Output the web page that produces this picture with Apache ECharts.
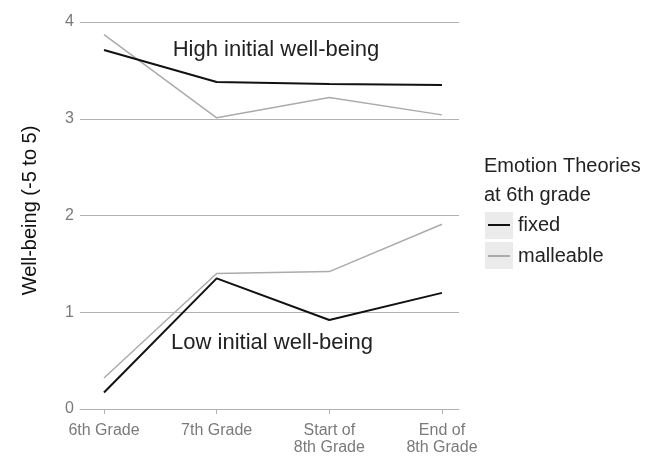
<!DOCTYPE html>
<html>
<head>
<meta charset="utf-8">
<script src="https://cdn.jsdelivr.net/npm/echarts@6/dist/echarts.min.js"></script>
<style>
  html, body { margin: 0; padding: 0; background: #fff; }
  #main { width: 660px; height: 456px; }
</style>
</head>
<body>
<div id="main"></div>
<script>
var categories = ['6th Grade', '7th Grade', 'Start of\n8th Grade', 'End of\n8th Grade'];
var yTicks = [0, 1, 2, 3, 4];
var highFixed = [3.71, 3.38, 3.36, 3.35];
var highMalleable = [3.87, 3.01, 3.22, 3.04];
var lowFixed = [0.17, 1.35, 0.92, 1.20];
var lowMalleable = [0.32, 1.40, 1.42, 1.91];

var font = 'Liberation Sans, Arial, sans-serif';
var catIdx = categories.map(function (c, i) { return i; });

function pts(values) {
    return values.map(function (v, i) { return [i, v]; });
}

var chartDom = document.getElementById('main');
var myChart = echarts.init(chartDom);
var option;

function lineSeries(name, values, color, width) {
    return {
        name: name,
        type: 'line',
        data: pts(values),
        symbol: 'none',
        silent: true,
        itemStyle: { color: color },
        lineStyle: { color: color, width: width }
    };
}

option = {
    animation: false,
    textStyle: { fontFamily: font },
    title: {
        text: 'Emotion Theories\nat 6th grade',
        left: 484,
        top: 152,
        padding: 0,
        textStyle: { fontFamily: font, fontSize: 20, fontWeight: 'normal', color: '#222', lineHeight: 29 }
    },
    legend: {
        orient: 'vertical',
        left: 488,
        top: 215,
        z: 10,
        padding: 0,
        itemGap: 11,
        icon: 'rect',
        itemWidth: 22,
        itemHeight: 2,
        data: ['fixed', 'malleable'],
        textStyle: { fontFamily: font, fontSize: 20, color: '#222', lineHeight: 20, padding: [0, 0, 0, 3] }
    },
    graphic: {
        elements: [
            { type: 'rect', z: 0, shape: { x: 485, y: 212, width: 28, height: 27 }, style: { fill: '#ebebeb' } },
            { type: 'rect', z: 0, shape: { x: 485, y: 242, width: 28, height: 27 }, style: { fill: '#ebebeb' } },
            {
                type: 'text', x: 276, y: 50, z: 5,
                style: { text: 'High initial well-being', font: '22px ' + font, fill: '#222', textAlign: 'center', textVerticalAlign: 'middle' }
            },
            {
                type: 'text', x: 272, y: 343, z: 5,
                style: { text: 'Low initial well-being', font: '22px ' + font, fill: '#222', textAlign: 'center', textVerticalAlign: 'middle' }
            }
        ]
    },
    grid: { left: 80, right: 201, top: 22, bottom: 46 },
    xAxis: {
        type: 'value',
        min: -0.213,
        max: 3.151,
        splitLine: { show: false },
        axisLine: { show: true, lineStyle: { color: '#b3b3b3', width: 1 } },
        axisTick: { show: true, customValues: catIdx, length: 5, lineStyle: { color: '#b3b3b3' } },
        axisLabel: {
            customValues: catIdx,
            formatter: function (v) { return categories[Math.round(v)]; },
            color: '#7a7a7a',
            fontSize: 16,
            lineHeight: 17,
            margin: 13,
            fontFamily: font
        }
    },
    yAxis: {
        type: 'value',
        min: 0,
        max: 4,
        interval: 1,
        name: 'Well-being (-5 to 5)',
        nameLocation: 'middle',
        nameGap: 40,
        nameTextStyle: { fontSize: 20, color: '#111', fontFamily: font, padding: [0, 0, 0, 10] },
        axisLine: { show: false },
        axisTick: { show: false },
        splitLine: { lineStyle: { color: '#b3b3b3', width: 1 } },
        axisLabel: {
            color: '#7a7a7a',
            fontSize: 16,
            margin: 6,
            fontFamily: font,
            customValues: yTicks
        }
    },
    series: [
        lineSeries('malleable', highMalleable, '#ababab', 1.5),
        lineSeries('malleable', lowMalleable, '#ababab', 1.5),
        lineSeries('fixed', highFixed, '#111111', 2),
        lineSeries('fixed', lowFixed, '#111111', 2)
    ]
};

option && myChart.setOption(option);
</script>
</body>
</html>
